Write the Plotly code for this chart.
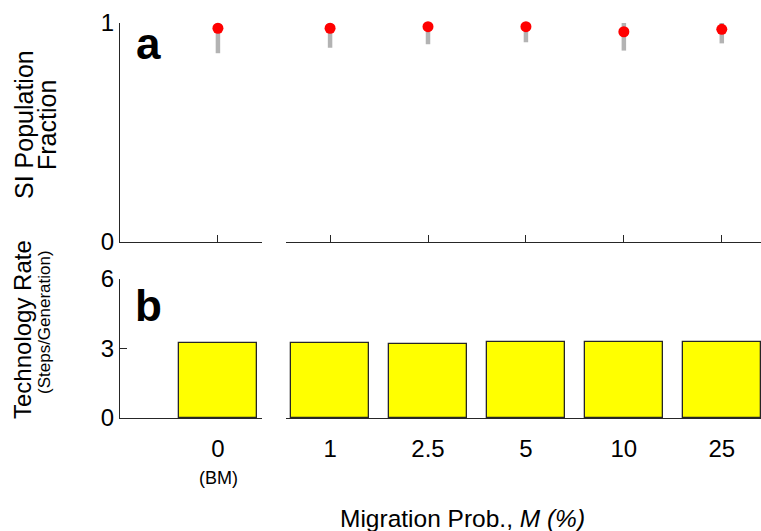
import plotly.graph_objects as go

# Migration probabilities (first entry is the bounded-migration baseline)
categories = ["0", "1", "2.5", "5", "10", "25"]
si_fraction = [0.976, 0.976, 0.983, 0.983, 0.960, 0.971]
si_lower = [0.862, 0.887, 0.903, 0.912, 0.874, 0.907]
si_upper = [1.01, 1.01, 1.01, 1.01, 1.01, 1.01]
tech_rate = [3.23, 3.23, 3.20, 3.26, 3.29, 3.30]

W, H = 761, 531
ML, MR, MT, MB = 120, 0, 23, 113
PW, PH = W - ML - MR, H - MT - MB

def px(x):
    return (x - ML) / PW

def py(y):
    return (H - MB - y) / PH

FONT = "Liberation Sans, Arial, Helvetica, sans-serif"
AX = "#262626"

pos = list(range(len(categories)))
left = [0]
right = pos[1:]

def err(idx):
    return dict(
        type="data", symmetric=False,
        array=[si_upper[i] - si_fraction[i] for i in idx],
        arrayminus=[si_fraction[i] - si_lower[i] for i in idx],
        color="#b3b3b3", thickness=4.5, width=0,
    )

fig = go.Figure()
for idx, xa, ya in [(left, "x", "y"), (right, "x2", "y2")]:
    fig.add_trace(go.Scatter(
        x=[pos[i] for i in idx], y=[si_fraction[i] for i in idx],
        mode="markers", xaxis=xa, yaxis=ya, cliponaxis=False,
        marker=dict(color="#ff0000", size=11, line=dict(width=0)),
        error_y=err(idx), showlegend=False,
    ))
for idx, xa, ya in [(left, "x3", "y3"), (right, "x4", "y4")]:
    fig.add_trace(go.Bar(
        x=[pos[i] for i in idx], y=[tech_rate[i] for i in idx],
        xaxis=xa, yaxis=ya, width=0.8,
        marker=dict(color="#ffff00", line=dict(color=AX, width=1.3)),
        showlegend=False,
    ))

dl = [0, px(262)]
dr = [px(286), 1]
rl = [-1, 0.45]
rr = [0.55, 0.55 + (761 - 286) / ((262 - 120) / 1.45)]
top_dom = [py(242), 1]
bot_dom = [0, py(279)]

xcommon = dict(showline=True, linecolor=AX, linewidth=1, showgrid=False,
               zeroline=False, tickcolor=AX, tickwidth=1,
               tickfont=dict(family=FONT, size=24, color="#000000"))
ycommon = dict(showgrid=False, zeroline=False, tickcolor=AX, tickwidth=1,
               tickfont=dict(family=FONT, size=24, color="#000000"))

fig.update_layout(
    width=W, height=H,
    margin=dict(l=ML, r=MR, t=MT, b=MB),
    plot_bgcolor="white", paper_bgcolor="white",
    bargap=0,
    xaxis=dict(**xcommon, domain=dl, range=rl, anchor="y",
               tickvals=left, ticks="inside", ticklen=7, showticklabels=False),
    xaxis2=dict(**xcommon, domain=dr, range=rr, anchor="y2",
                tickvals=right, ticks="inside", ticklen=7, showticklabels=False),
    xaxis3=dict(**xcommon, domain=dl, range=rl, anchor="y3",
                tickvals=left, ticktext=[categories[i] for i in left],
                ticks="", ticklabelstandoff=9),
    xaxis4=dict(**xcommon, domain=dr, range=rr, anchor="y4",
                tickvals=right, ticktext=[categories[i] for i in right],
                ticks="", ticklabelstandoff=9),
    yaxis=dict(**ycommon, domain=top_dom, range=[0, 1], anchor="x",
               showline=True, linecolor=AX, linewidth=1,
               tickvals=[0, 1], ticks="inside", ticklen=7),
    yaxis2=dict(domain=top_dom, range=[0, 1], anchor="x2", visible=False),
    yaxis3=dict(**ycommon, domain=bot_dom, range=[0, 6], anchor="x3",
                showline=True, linecolor=AX, linewidth=1,
                tickvals=[0, 3, 6], ticks="inside", ticklen=7),
    yaxis4=dict(domain=bot_dom, range=[0, 6], anchor="x4", visible=False),
)

def note(text, x, y, size, angle=0, bold=False, xanchor="center", yanchor="middle"):
    fig.add_annotation(
        text=f"<b>{text}</b>" if bold else text,
        x=px(x), y=py(y), xref="paper", yref="paper",
        xanchor=xanchor, yanchor=yanchor, textangle=angle, showarrow=False,
        font=dict(family=FONT, size=size, color="#000000"),
    )

# Panel letters
note("a", 134, 44, 44, bold=True, xanchor="left")
note("b", 133, 305, 44, bold=True, xanchor="left")

# Axis titles
note("SI Population", 24, 125, 25, angle=-90)
note("Fraction", 47, 125, 25, angle=-90)
note("Technology Rate", 22, 330, 24, angle=-90)
note("(Steps/Generation)", 44, 322, 17, angle=-90)
note("(BM)", 218, 478, 18)
note("Migration Prob., <i>M (%)</i>", 462, 518, 24.5)

fig.write_html("out.html")
